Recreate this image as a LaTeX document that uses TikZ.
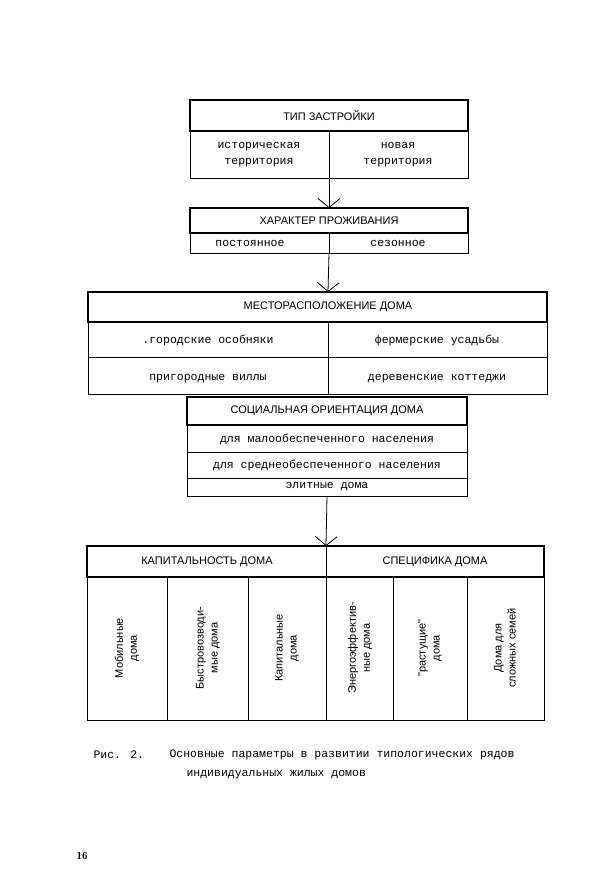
\documentclass[tikz,border=0pt]{standalone}
\usepackage{fontspec}
\setmainfont{Liberation Mono}
\newfontfamily\hdf{Liberation Sans}
\usetikzlibrary{arrows.meta}
\begin{document}
\begin{tikzpicture}[x=1pt,y=-1pt,
  thick box/.style={line width=1.6pt},
  thin/.style={line width=0.8pt},
  hd/.style={font=\hdf\fontsize{11}{12}\selectfont},
  tx/.style={font=\fontsize{11.5}{16}\selectfont, align=center},
  vt/.style={font=\hdf\fontsize{11}{14}\selectfont, align=center, rotate=90},
  arr/.style={line width=0.8pt,-{Straight Barb[length=9pt,width=22pt,line width=0.8pt]}}]
\useasboundingbox (0,0) rectangle (600,870);
% box 1
\draw[thin] (190,131) rectangle (468,178);
\draw[thin] (329,131) -- (329,178);
\draw[thick box] (190,100) rectangle (468,131);
\node[hd] (h1) at (329,116) {ТИП ЗАСТРОЙКИ};
\node[tx] (a1) at (259,155) {историческая\\территория};
\node[tx] (a2) at (398,155) {новая\\территория};
\coordinate (o1) at (329,178);
% box 2
\draw[thin] (190,233) rectangle (468,253);
\draw[thin] (329,233) -- (329,253);
\draw[thick box] (190,208) rectangle (468,233);
\node[hd] (h2) at (329,221) {ХАРАКТЕР ПРОЖИВАНИЯ};
\node[tx] (b1) at (250,243) {постоянное};
\node[tx] (b2) at (398,243) {сезонное};
\coordinate (i2) at (329,208);
\coordinate (o2) at (329,253);
% box 3
\draw[thin] (88,322) rectangle (547,394);
\draw[thin] (88,357) -- (547,357);
\draw[thin] (328,322) -- (328,394);
\draw[thick box] (88,292) rectangle (547,322);
\node[hd] (h3) at (328,307) {МЕСТОРАСПОЛОЖЕНИЕ ДОМА};
\node[tx] (c1) at (208,340) {.городские особняки};
\node[tx] (c2) at (437,340) {фермерские усадьбы};
\node[tx] (c3) at (208,379) {пригородные виллы};
\node[tx] (c4) at (437,379) {деревенские коттеджи};
\coordinate (i3) at (328,292);
% box 4
\draw[thin] (187,425) rectangle (467,496);
\draw[thin] (187,452) -- (467,452);
\draw[thin] (187,478) -- (467,478);
\draw[thick box] (187,397) rectangle (467,425);
\node[hd] (h4) at (327,411) {СОЦИАЛЬНАЯ ОРИЕНТАЦИЯ ДОМА};
\node[tx] (d1) at (327,439) {для малообеспеченного населения};
\node[tx] (d2) at (327,465) {для среднеобеспеченного населения};
\node[tx] (d3) at (327,487) {элитные дома};
\coordinate (o4) at (327,496);
% box 5
\draw[thin] (87,577) rectangle (544,720);
\foreach \x in {167,248,326,393,467} \draw[thin] (\x,577) -- (\x,720);
\draw[thick box] (87,546) rectangle (544,577);
\draw[thin] (326,546) -- (326,577);
\node[hd] (h5a) at (207,562) {КАПИТАЛЬНОСТЬ ДОМА};
\node[hd] (h5b) at (435,562) {СПЕЦИФИКА ДОМА};
\coordinate (i5) at (326,546);
\node[vt] (e1) at (127,648) {Мобильные\\дома};
\node[vt] (e2) at (208,648) {Быстровозводи-\\мые дома};
\node[vt] (e3) at (287,648) {Капитальные\\дома};
\node[vt] (e4) at (360,648) {Энергоэффектив-\\ные дома};
\node[vt] (e5) at (430,648) {"растущие"\\дома};
\node[vt] (e6) at (505,648) {Дома для\\сложных семей};
% arrows
\draw[arr] (o1) -- (i2);
\draw[arr] (o2) -- (i3);
\draw[arr] (o4) -- (i5);
% caption
\node[anchor=west, font=\fontsize{11.5}{14}\selectfont] (cap1) at (90,755) {Рис. 2.};
\node[anchor=west, font=\fontsize{11.5}{14}\selectfont] (cap2) at (166,755) {Основные параметры в развитии типологических рядов};
\node[anchor=west, font=\fontsize{11.5}{14}\selectfont] (cap3) at (183,775) {индивидуальных жилых домов};
\node[anchor=west, font=\fontfamily{lmr}\fontsize{11}{12}\selectfont\bfseries] (pg) at (73,856) {16};
\end{tikzpicture}
\end{document}
